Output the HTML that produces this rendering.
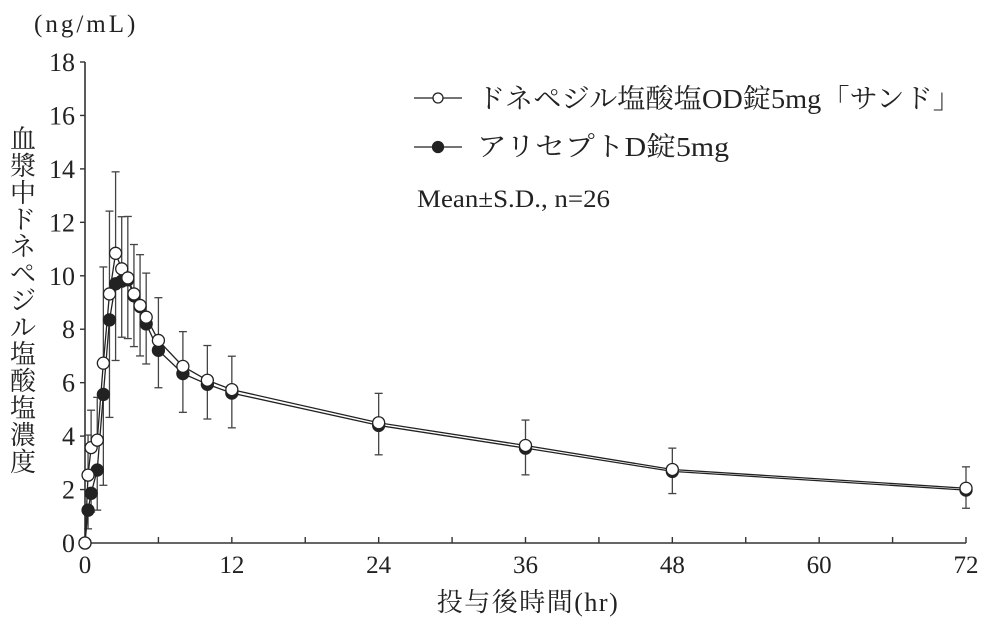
<!DOCTYPE html>
<html><head><meta charset="utf-8"><style>
html,body{margin:0;padding:0;background:#fff;width:1004px;height:638px;overflow:hidden}
svg{display:block}
text{font-family:"Liberation Serif","Noto Serif CJK SC",serif;fill:#222}
</style></head><body>
<svg id="chart" width="1004" height="638" viewBox="0 0 1004 638" xmlns="http://www.w3.org/2000/svg"></svg>
<script>
const times=[0,0.25,0.5,1,1.5,2,2.5,3,3.5,4,4.5,5,6,8,10,12,24,36,48,72];
const openMean=[0,2.54,3.57,3.85,6.73,9.32,10.84,10.26,9.92,9.32,8.89,8.45,7.58,6.61,6.09,5.74,4.5,3.65,2.75,2.05];
const openSD=[0,1.5,1.4,1.6,3.6,3.1,3.05,1.95,2.3,1.85,1.9,1.65,1.6,1.3,1.3,1.25,1.1,0.95,0.8,0.8];
const blackMean=[0,1.23,1.86,2.73,5.56,8.35,9.70,9.8,9.85,9.25,8.85,8.2,7.21,6.34,5.94,5.61,4.4,3.55,2.68,1.98];
const blackSD=[0,0.7,0.7,1.5,3.4,3.65,2.87,2.1,2.2,1.9,1.85,1.5,1.4,1.45,1.3,1.3,1.1,1.0,0.83,0.68];
const xTicks=[0,12,24,36,48,60,72];
const yTicks=[0,2,4,6,8,10,12,14,16,18];

const NS="http://www.w3.org/2000/svg";
const svg=document.getElementById('chart');
const X0=85,X1=966,Y0=543,Y1=62;
const sx=v=>X0+(v/72)*(X1-X0);
const sy=v=>Y0-(v/18)*(Y0-Y1);
function mk(tag,attrs,parent){const e=document.createElementNS(NS,tag);for(const k in attrs)e.setAttribute(k,attrs[k]);(parent||svg).appendChild(e);return e;}

let ax=mk('path',{d:`M${X0} ${Y1}V${Y0}H${X1}`,fill:'none',stroke:'#333','stroke-width':1.6});


yTicks.forEach(v=>{
  let t=mk('line',{x1:X0-5,x2:X0,y1:sy(v),y2:sy(v),stroke:'#333','stroke-width':1.4});
  
  
  let l=mk('text',{x:X0-10,y:sy(v)+9,'text-anchor':'end','font-size':26});
  l.textContent=v;
  
  
});
for(let v=6;v<=72;v+=6){
  let t=mk('line',{x1:sx(v),x2:sx(v),y1:Y0,y2:Y0-6,stroke:'#333','stroke-width':1.4});
  
  
}
xTicks.forEach(v=>{
  let l=mk('text',{x:sx(v),y:573,'text-anchor':'middle','font-size':25});
  l.textContent=v;
  
  
});
let xt=mk('text',{x:528,y:611,'text-anchor':'middle','font-size':26,'letter-spacing':1.5});
xt.textContent='投与後時間(hr)';


let unit=mk('text',{x:34,y:32,'font-size':25,'letter-spacing':3});
unit.textContent='(ng/mL)';


const ytitle='血漿中ドネペジル塩酸塩濃度';
const yg=mk('g',{});


[...ytitle].forEach((c,i)=>{
  let t=mk('text',{x:23,y:148+i*26.9,'text-anchor':'middle','font-size':26},yg);
  t.textContent=c;
});

function bars(mean,sd,dir,name){
  const g=mk('g',{});
  
  
  times.forEach((t,i)=>{
    if(!sd[i])return;
    const x=sx(t),y=sy(mean[i]),ye=sy(mean[i]+dir*sd[i]);
    mk('line',{x1:x,x2:x,y1:y,y2:ye,stroke:'#444','stroke-width':1.3},g);
    mk('line',{x1:x-4,x2:x+4,y1:ye,y2:ye,stroke:'#444','stroke-width':1.3},g);
  });
}
bars(openMean,openSD,1,'open-error-bars');
bars(blackMean,blackSD,-1,'filled-error-bars');

function series(mean,fill,name){
  const g=mk('g',{});
  
  
  mk('polyline',{points:times.map((t,i)=>sx(t)+','+sy(mean[i])).join(' '),fill:'none',stroke:'#222','stroke-width':1.3},g);
  times.forEach((t,i)=>{
    let c=mk('circle',{cx:sx(t),cy:sy(mean[i]),r:6,fill:fill,stroke:'#222','stroke-width':1.3},g);
    
    
  });
}
series(blackMean,'#222','series-aricept');
series(openMean,'#fff','series-donepezil-od');

const lg=mk('g',{});


mk('line',{x1:414,x2:462,y1:98,y2:98,stroke:'#222','stroke-width':1.3},lg);
mk('circle',{cx:438,cy:98,r:5,fill:'#fff',stroke:'#222','stroke-width':1.3},lg);
let l1=mk('text',{x:477,y:108,'font-size':27,textLength:484,lengthAdjust:'spacingAndGlyphs'},lg);l1.textContent='ドネペジル塩酸塩OD錠5mg「サンド」';
mk('line',{x1:414,x2:462,y1:147,y2:147,stroke:'#222','stroke-width':1.3},lg);
mk('circle',{cx:438,cy:147,r:5.5,fill:'#222',stroke:'#222','stroke-width':1.3},lg);
let l2=mk('text',{x:477,y:156,'font-size':27,textLength:252,lengthAdjust:'spacingAndGlyphs'},lg);l2.textContent='アリセプトD錠5mg';
let l3=mk('text',{x:417,y:207,'font-size':25,textLength:193,lengthAdjust:'spacingAndGlyphs'},lg);l3.textContent='Mean±S.D., n=26';
</script>
</body></html>
